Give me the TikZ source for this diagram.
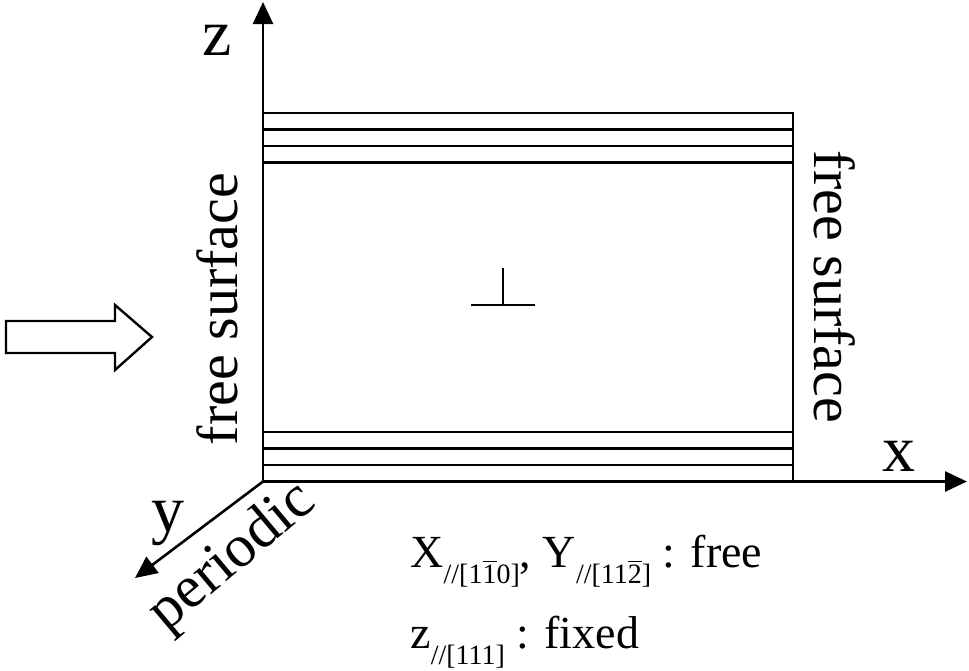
\documentclass[tikz,border=0pt]{standalone}
\usepackage{fontspec}
\setmainfont{Liberation Serif}
\usepackage{tikz}
\usetikzlibrary{arrows.meta}
\newcommand{\ovl}[1]{\ensuremath{\overline{\mbox{#1}}}}
\newcommand{\sbs}[1]{\raisebox{-8pt}{\fontsize{14}{14}\selectfont #1}}

\begin{document}
\begin{tikzpicture}[x=0.5pt,y=-0.5pt,
    axis/.style={line width=1.3pt, -{Triangle[length=11pt,width=10pt]}},
    slab/.style={line width=1.4pt},
    lbl/.style={inner sep=0pt, font=\fontsize{33}{33}\selectfont},
    surf/.style={inner sep=0pt, font=\fontsize{29}{29}\selectfont},
    cond/.style={inner sep=0pt, font=\fontsize{23}{27}\selectfont}]
    \useasboundingbox (0,0) rectangle (969,670);

    % axes
    \coordinate (O) at (263,481.5);
    \coordinate (zend) at (263,2);
    \coordinate (xend) at (967,481.5);
    \coordinate (yend) at (135,578);
    \draw[axis] (O) -- (zend);
    \draw[axis] (O) -- (xend);
    \draw[axis] (O) -- (yend);

    % slab with surface layers
    \draw[slab] (263,113) rectangle (793,481.5);
    \foreach \yy in {129.5,146,162.5,432,448.5,465}
        \draw[slab] (263,\yy) -- (793,\yy);

    % edge dislocation
    \draw[slab] (503,268) -- (503,305) (471,305) -- (535,305);

    % loading direction
    \draw[line width=1.2pt] (6,321) -- (115,321) -- (115,305) -- (152,337)
        -- (115,370) -- (115,353) -- (6,353) -- cycle;

    % labels
    \node[lbl] (zlab) at (217,40) {z};
    \node[lbl] (xlab) at (899,456) {x};
    \node[lbl] (ylab) at (168,523) {y};
    \node[surf, font=\fontsize{30}{30}\selectfont, rotate=40] (per) at (233,558) {periodic};
    \node[surf, rotate=90] (fsleft) at (217,309) {free surface};
    \node[surf, rotate=-90] (fsright) at (835,287) {free surface};
    \node[cond, anchor=base west] (dofxy) at (410,567)
        {X\sbs{//[1\ovl{1}0]}, Y\sbs{//[11\ovl{2}]} : free};
    \node[cond, anchor=base west] (dofz) at (410,648)
        {z\sbs{//[111]} : fixed};

\end{tikzpicture}
\end{document}
